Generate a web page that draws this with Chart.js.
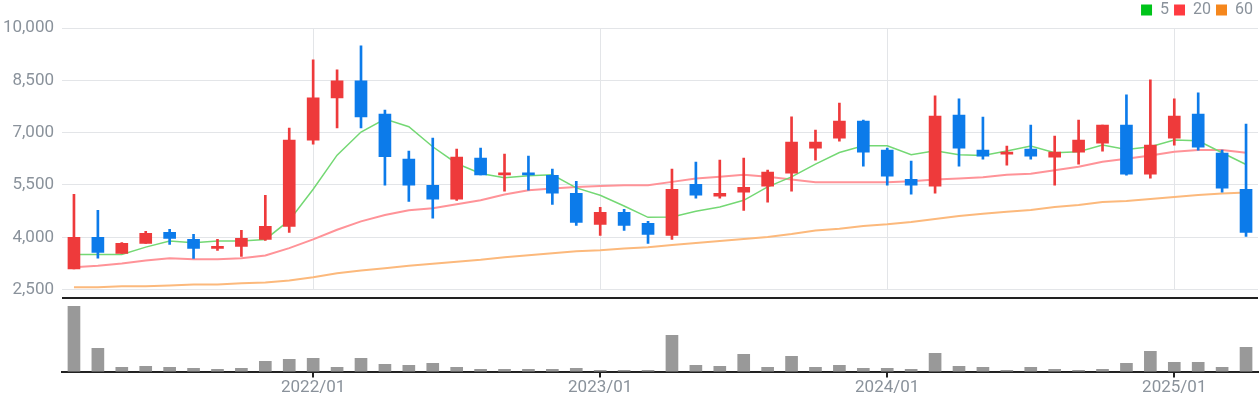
<!DOCTYPE html>
<html>
<head>
<meta charset="utf-8">
<script src="https://cdn.jsdelivr.net/npm/chart.js@4/dist/chart.umd.min.js"></script>
<style>
  html, body { margin: 0; padding: 0; background: #ffffff; }
  #wrap { width: 1259px; height: 400px; position: relative; }
</style>
</head>
<body>
<div id="wrap"><canvas id="chart" width="1259" height="400"></canvas></div>
<script>
// ---------- DATA ----------
const months = [
  "2021/03","2021/04","2021/05","2021/06","2021/07","2021/08","2021/09","2021/10","2021/11","2021/12",
  "2022/01","2022/02","2022/03","2022/04","2022/05","2022/06","2022/07","2022/08","2022/09","2022/10","2022/11","2022/12",
  "2023/01","2023/02","2023/03","2023/04","2023/05","2023/06","2023/07","2023/08","2023/09","2023/10","2023/11","2023/12",
  "2024/01","2024/02","2024/03","2024/04","2024/05","2024/06","2024/07","2024/08","2024/09","2024/10","2024/11","2024/12",
  "2025/01","2025/02","2025/03","2025/04"
];
const openPrices  = [3090,4000,3536,3824,4140,3940,3680,3738,3940,4313,6787,7996,8485,7535,6241,5493,5090,6270,5790,5838,5780,5263,4371,4716,4400,4054,5522,5176,5291,5464,5838,6557,6845,7334,6500,5665,5464,7507,6500,6385,6528,6298,6442,6701,7219,5809,6845,7535,6413,5378];
const highPrices  = [5230,4770,3850,4170,4230,4085,3940,4200,5205,7133,9090,8800,9490,7650,6470,6845,6530,6557,6385,6327,5953,5608,4860,4800,4457,5953,6155,6212,6270,5924,7450,7075,7850,7363,6557,6183,8053,7967,7449,6615,7219,6902,7363,7219,8082,8514,7967,8139,6500,7248];
const lowPrices   = [3090,3400,3536,3824,3795,3395,3623,3450,3910,4140,6670,7133,7133,5493,5030,4545,5060,5790,5320,5350,4946,4342,4054,4198,3824,3939,5120,5119,4773,5004,5320,6212,6759,6039,5493,5234,5263,6039,6241,6068,6241,5493,6097,6471,5780,5694,6643,6500,5291,4025];
const closePrices = [4000,3565,3824,4112,3968,3680,3738,3968,4313,6787,7996,8485,7449,6308,5493,5090,6298,5790,5838,5790,5263,4428,4716,4342,4083,5378,5205,5263,5435,5867,6730,6730,7334,6442,5752,5493,7478,6557,6327,6442,6327,6442,6787,7219,5809,6643,7478,6586,5406,4140];
const volumes = [1960000,700000,130000,160000,130000,100000,70000,100000,310000,370000,400000,130000,400000,220000,190000,250000,130000,70000,70000,70000,70000,100000,40000,40000,40000,1090000,190000,160000,520000,130000,460000,130000,190000,100000,100000,70000,550000,160000,130000,40000,130000,70000,40000,70000,250000,610000,280000,280000,130000,730000];
const ma5  = [3507,3507,3507,3718,3891,3843,3891,3891,3939,4486,5378,6356,7018,7392,7171,6596,6116,5828,5704,5761,5790,5416,5205,4898,4572,4582,4745,4869,5061,5445,5733,6097,6432,6624,6624,6365,6480,6365,6346,6471,6615,6423,6452,6643,6519,6596,6787,6768,6423,6087];
const ma20 = [3143,3181,3248,3335,3402,3373,3373,3402,3479,3690,3939,4217,4457,4639,4773,4831,4946,5061,5224,5349,5397,5445,5474,5493,5493,5589,5685,5733,5790,5733,5656,5579,5579,5579,5579,5608,5656,5685,5723,5790,5819,5924,6020,6164,6250,6346,6452,6500,6500,6423];
const ma60 = [2568,2568,2597,2597,2616,2645,2645,2683,2702,2760,2856,2971,3047,3114,3181,3239,3296,3354,3431,3488,3546,3603,3632,3680,3718,3776,3834,3891,3949,4006,4093,4198,4246,4323,4371,4438,4524,4610,4678,4735,4783,4869,4927,5013,5042,5099,5157,5215,5253,5282];
const priceTicks = [2500, 4000, 5500, 7000, 8500, 10000];
const maLabels = ["5", "20", "60"];

// ---------- STYLE / LAYOUT CONSTANTS ----------
const PRICE_MIN = 150;          // price axis extends below the price panel (volume panel sits there)
const PRICE_MAX = 10000;
const VOL_PANEL_MAX = 2220000;  // value at the top edge of the volume panel
const VOL_AXIS_MAX = 10300000;  // volume axis spans full chart height
const UP = '#ee3a3b', DOWN = '#0c7bea';
const GRID = '#e3e5e8', DARK = '#222222', TXT = '#8a929b';
const FONT = "Roboto, 'Noto Sans', 'DejaVu Sans', sans-serif";
const maLine = ['#74d874', '#ff9398', '#fcb97c'];
const maBox  = ['#00c41a', '#ff3a40', '#f5871d'];

const up = closePrices.map((c, i) => c >= openPrices[i]);
const candleColors = up.map(u => u ? UP : DOWN);
const bodies = openPrices.map((o, i) => [o, closePrices[i]]);
const wicks = lowPrices.map((l, i) => [l, highPrices[i]]);

const panelPlugin = {
  id: 'panels',
  beforeDatasetsDraw(chart) {
    const { ctx, chartArea, scales } = chart;
    const x = scales.x, y = scales.y, yv = scales.yVol;
    ctx.save();
    // vertical grid lines in the price panel only
    ctx.strokeStyle = GRID; ctx.lineWidth = 1;
    const yBottom = y.getPixelForValue(priceTicks[0]);
    months.forEach((m, i) => {
      if (m.endsWith('/01')) {
        const px = Math.round(x.getPixelForValue(i)) + 0.5;
        ctx.beginPath(); ctx.moveTo(px, chartArea.top); ctx.lineTo(px, yBottom); ctx.stroke();
      }
    });
    // separator between price and volume panels
    const ySep = Math.round(yv.getPixelForValue(VOL_PANEL_MAX));
    ctx.strokeStyle = DARK; ctx.lineWidth = 2;
    ctx.beginPath(); ctx.moveTo(chartArea.left, ySep); ctx.lineTo(chartArea.right, ySep); ctx.stroke();
    ctx.restore();
  }
};

new Chart(document.getElementById('chart'), {
  type: 'bar',
  data: {
    labels: months,
    datasets: [
      { type: 'line', label: maLabels[0], data: ma5, yAxisID: 'y', borderColor: maLine[0], backgroundColor: maBox[0], borderWidth: 1.5, pointRadius: 0, tension: 0, order: 5 },
      { type: 'line', label: maLabels[1], data: ma20, yAxisID: 'y', borderColor: maLine[1], backgroundColor: maBox[1], borderWidth: 2, pointRadius: 0, tension: 0, order: 6 },
      { type: 'line', label: maLabels[2], data: ma60, yAxisID: 'y', borderColor: maLine[2], backgroundColor: maBox[2], borderWidth: 2, pointRadius: 0, tension: 0, order: 7 },
      { type: 'bar', label: 'wick', data: wicks, yAxisID: 'y', backgroundColor: candleColors, barThickness: 2, grouped: false, order: 2 },
      { type: 'bar', label: 'body', data: bodies, yAxisID: 'y', backgroundColor: candleColors, barThickness: 12, minBarLength: 2, grouped: false, order: 1 },
      { type: 'bar', label: 'volume', data: volumes, yAxisID: 'yVol', backgroundColor: '#999999', barThickness: 12, grouped: false, order: 3 }
    ]
  },
  options: {
    responsive: false,
    animation: false,
    devicePixelRatio: 1,
    layout: { padding: { top: -3, right: 1, bottom: 2, left: 0 } },
    plugins: {
      tooltip: { enabled: false },
      legend: {
        display: true,
        position: 'top',
        align: 'end',
        labels: {
          boxWidth: 11,
          boxHeight: 11,
          padding: 5,
          color: TXT,
          font: { family: FONT, size: 16 },
          generateLabels(chart) {
            return maLabels.map((t, i) => ({
              text: t, fillStyle: maBox[i], strokeStyle: maBox[i], lineWidth: 0,
              fontColor: TXT, datasetIndex: i, hidden: false
            }));
          }
        }
      }
    },
    scales: {
      x: {
        type: 'category',
        offset: true,
        grid: { offset: false, drawOnChartArea: false, drawTicks: true, tickLength: 6, color: DARK, lineWidth: 2 },
        border: { display: true, color: DARK, width: 2 },
        ticks: {
          autoSkip: false, maxRotation: 0, minRotation: 0, padding: 0,
          color: TXT, font: { family: FONT, size: 17 },
          callback(v, i) { const l = months[i]; return l.endsWith('/01') ? l : null; }
        }
      },
      y: {
        position: 'left',
        min: PRICE_MIN, max: PRICE_MAX,
        afterBuildTicks(s) { s.ticks = priceTicks.map(v => ({ value: v })); },
        afterFit(s) { s.width = 62; },
        grid: { color: GRID, lineWidth: 1, drawTicks: false },
        border: { display: false },
        ticks: {
          padding: 8, color: TXT, font: { family: FONT, size: 17 },
          callback(v) { return Number(v).toLocaleString('en-US'); }
        }
      },
      yVol: {
        position: 'right',
        display: false,
        min: 0, max: VOL_AXIS_MAX
      }
    }
  },
  plugins: [panelPlugin]
});
</script>
</body>
</html>
